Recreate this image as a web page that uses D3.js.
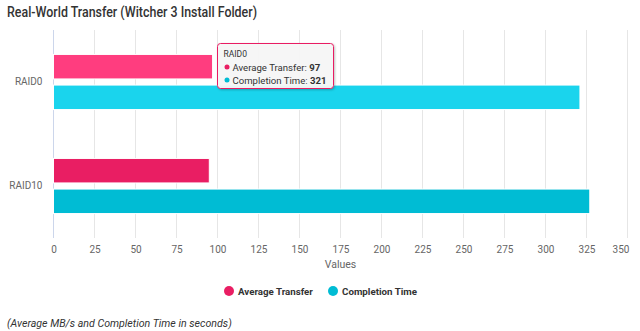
<!DOCTYPE html>
<html><head><meta charset="utf-8">
<script src="https://cdn.jsdelivr.net/npm/d3@7"></script>
<style>
body{margin:0;background:#fff;}
svg{font-family:Roboto,"Open Sans","DejaVu Sans",sans-serif;}
</style></head>
<body><svg id="c" width="640" height="331"></svg>
<script>
const categories = ["RAID0","RAID10"];
const seriesNames = ["Average Transfer","Completion Time"];
const averageTransfer = [97, 95];
const completionTime = [321, 327];
const xTicks = [0,25,50,75,100,125,150,175,200,225,250,275,300,325,350];
const colors = ["#e91e63","#00bcd4"];
const hoverColors = ["#ff3d7f","#1ad4ed"];

const FF = "Roboto, Open Sans, DejaVu Sans, sans-serif";
function fit(sel, w){
  const n = sel.node();
  const fs = parseFloat(sel.attr("font-size"));
  const cur = n.getComputedTextLength();
  if (cur > 0) sel.attr("font-size", (fs * w / cur).toFixed(2));
  return sel;
}
function squeeze(sel, w){
  const cur = sel.node().getComputedTextLength();
  if (cur > w) sel.attr("textLength", w).attr("lengthAdjust","spacingAndGlyphs");
  return sel;
}

const svg = d3.select("#c");
const L = 53.5, R = 627.5, T = 30, B = 238;
const x = d3.scaleLinear().domain([0,350]).range([L,R]);
const y = d3.scaleBand().domain(categories).range([T,B]).paddingInner(0.47).paddingOuter(0.235);
const ys = d3.scaleBand().domain(seriesNames).range([0,y.bandwidth()]).paddingInner(0.2);

// title
squeeze(svg.append("text").attr("x",7).attr("y",17).attr("font-size",14).attr("fill","#333").attr("font-weight",500)
  .text("Real-World Transfer (Witcher 3 Install Folder)"), 250);

// grid
svg.append("g").selectAll("line").data(xTicks.slice(1)).join("line")
  .attr("x1",d=>x(d)).attr("x2",d=>x(d)).attr("y1",T).attr("y2",B)
  .attr("stroke","#e6e6e6").attr("stroke-width",1);
svg.append("line").attr("x1",L).attr("x2",L).attr("y1",T).attr("y2",B).attr("stroke","#ccd6eb");

// x axis labels
const ax = svg.append("g").attr("transform",`translate(0,${B})`)
  .call(d3.axisBottom(x).tickValues(xTicks).tickSize(0).tickPadding(8));
ax.select(".domain").remove();
ax.selectAll("text").attr("fill","#666").attr("font-size",10).attr("font-family",FF);
ax.selectAll(".tick").filter(d=>d===350).select("text").attr("dx",-7);

svg.append("text").attr("x",(L+R)/2).attr("y",268).attr("text-anchor","middle")
  .attr("font-size",10.5).attr("fill","#666").text("Values");

// y axis labels
const ay = svg.append("g").attr("transform",`translate(${L},0)`)
  .call(d3.axisLeft(y).tickSize(0).tickPadding(11));
ay.select(".domain").remove();
ay.selectAll("text").attr("fill","#666").attr("font-size",10).attr("font-family",FF);

// bars
const data = [];
categories.forEach((c,i)=>{
  data.push({c, s:seriesNames[0], v:averageTransfer[i], k:0, hover:i===0});
  data.push({c, s:seriesNames[1], v:completionTime[i], k:1, hover:i===0});
});
svg.append("g").selectAll("rect").data(data).join("rect")
  .attr("x",x(0)).attr("y",d=>y(d.c)+ys(d.s))
  .attr("width",d=>x(d.v)-x(0)).attr("height",ys.bandwidth())
  .attr("fill",d=>d.hover?hoverColors[d.k]:colors[d.k])
  .attr("stroke","#fff").attr("stroke-width",1);

// legend
const lg = svg.append("g");
const items = [{n:seriesNames[0],cx:229},{n:seriesNames[1],cx:333}];
items.forEach((it,i)=>{
  lg.append("circle").attr("cx",it.cx).attr("cy",291).attr("r",5).attr("fill",colors[i]);
  fit(lg.append("text").attr("x",it.cx+9).attr("y",295).attr("font-size",11).attr("font-weight",700)
    .attr("fill","#333").text(it.n), 75);
});

// footnote
fit(svg.append("text").attr("x",7).attr("y",327).attr("font-size",11).attr("font-style","italic")
  .attr("fill","#333").text("(Average MB/s and Completion Time in seconds)"), 225);

// tooltip
const tx = 217.5, ty = 43.5, tw = 116, th = 45;
const defs = svg.append("defs");
const f = defs.append("filter").attr("id","sh").attr("x","-10%").attr("y","-10%").attr("width","130%").attr("height","140%");
f.append("feDropShadow").attr("dx",1).attr("dy",1).attr("stdDeviation",1.2).attr("flood-color","#000").attr("flood-opacity",0.25);
const tt = svg.append("g");
tt.append("rect").attr("x",tx).attr("y",ty).attr("width",tw).attr("height",th).attr("rx",3)
  .attr("fill","rgba(247,247,247,0.95)").attr("stroke",colors[0]).attr("filter","url(#sh)");
tt.append("text").attr("x",tx+6).attr("y",ty+13).attr("font-size",8.5).attr("fill","#333").text(categories[0]);
const vals = [averageTransfer[0], completionTime[0]];
const tw2 = [88, 94];
seriesNames.forEach((n,i)=>{
  const yy = ty+27+i*13;
  tt.append("circle").attr("cx",tx+9.5).attr("cy",yy-3.5).attr("r",2.5).attr("fill",colors[i]);
  const t = tt.append("text").attr("x",tx+15).attr("y",yy).attr("font-size",11).attr("fill","#333");
  t.append("tspan").text(n+": ");
  t.append("tspan").attr("font-weight",700).text(vals[i]);
  fit(t, tw2[i]);
});
</script></body></html>
